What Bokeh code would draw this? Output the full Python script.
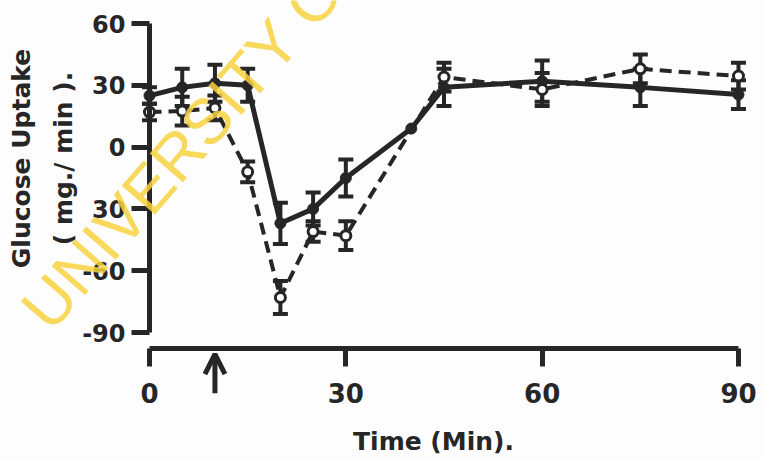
import math
from bokeh.plotting import figure
from bokeh.models import (ColumnDataSource, Whisker, TeeHead, Arrow, OpenHead,
                          Label, Range1d, FixedTicker)
from bokeh.embed import file_html
from bokeh.resources import INLINE

# ---------------- data ----------------
time_filled = [0, 5, 10, 15, 20, 25, 30, 40, 45, 60, 75, 90]
uptake_filled = [25, 29, 31, 30, -37, -30, -15, 9, 29, 32, 29, 25.5]
err_filled = [4, 9, 9, 8, 10, 8, 9, 0, 9, 10, 9, 7]

time_open = [0, 5, 10, 15, 20, 25, 30, 45, 60, 75, 90]
uptake_open = [17, 17.5, 19, -12, -73, -41, -43, 34, 28, 38, 34.5]
err_open = [4, 7, 6, 5, 8, 5, 7, 7, 8, 7, 6.5]

y_ticks = [-90, -60, -30, 0, 30, 60]
y_tick_labels = ["-90", "-60", "30", "0", "30", "60"]
x_ticks = [0, 30, 60, 90]
arrow_time = 10

x_title = "Time (Min)."
y_title_1 = "Glucose Uptake"
y_title_2 = "( mg./ min )."
watermark = "UNIVERSITY O"

INK = "#262626"
FONT = "DejaVu Sans"

# The frame covers the whole canvas; axes are pinned with fixed_location so
# that the detached time axis, the arrow and the titles are all inside it.
p = figure(width=762, height=459,
           x_range=Range1d(-22.77, 93.67), y_range=Range1d(-151.65, 71.17),
           output_backend="svg", toolbar_location=None,
           min_border_left=0, min_border_right=0, min_border_top=0, min_border_bottom=0)
p.grid.visible = False
p.outline_line_color = None
p.background_fill_color = "#fdfdfd"
p.border_fill_color = "#fdfdfd"

for ax in p.axis:
    ax.axis_line_width = 5
    ax.axis_line_color = INK
    ax.major_tick_line_width = 5
    ax.major_tick_line_color = INK
    ax.major_tick_in = 0
    ax.major_tick_out = 18
    ax.minor_tick_line_color = None
    ax.major_label_text_font = FONT
    ax.major_label_text_font_style = "bold"
    ax.major_label_text_color = INK

p.yaxis.fixed_location = 0
p.yaxis.bounds = (-90, 60)
p.yaxis.ticker = FixedTicker(ticks=y_ticks)
p.yaxis.major_label_overrides = {t: l for t, l in zip(y_ticks, y_tick_labels)}
p.yaxis.major_label_text_font_size = "24px"
p.yaxis.major_label_standoff = 6

p.xaxis.fixed_location = -97.8
p.xaxis.bounds = (0, 90)
p.xaxis.ticker = FixedTicker(ticks=x_ticks)
p.xaxis.major_label_text_font_size = "26px"
p.xaxis.major_label_standoff = 16

# lines
p.line(time_filled, uptake_filled, line_width=5, line_color=INK)
p.line(time_open, uptake_open, line_width=4, line_color=INK, line_dash="12 7")

# error bars
def whisker_source(ts, ys, es):
    t2, lo, hi = [], [], []
    for t, y, e in zip(ts, ys, es):
        if e > 0:
            t2.append(t); lo.append(y - e); hi.append(y + e)
    return ColumnDataSource(dict(t=t2, lower=lo, upper=hi))

for ts, ys, es in [(time_filled, uptake_filled, err_filled), (time_open, uptake_open, err_open)]:
    w = Whisker(source=whisker_source(ts, ys, es), base="t", lower="lower", upper="upper",
                line_width=4, line_color=INK,
                upper_head=TeeHead(size=15, line_width=4, line_color=INK),
                lower_head=TeeHead(size=15, line_width=4, line_color=INK))
    p.add_layout(w)

# markers
p.scatter(time_filled, uptake_filled, size=11, fill_color=INK, line_color=INK)
p.scatter(time_open, uptake_open, size=10, fill_color="white", line_color=INK, line_width=3)

# injection arrow below the time axis
p.add_layout(Arrow(end=OpenHead(size=20, line_width=5, line_color=INK),
                   x_start=arrow_time, y_start=-119.5, x_end=arrow_time, y_end=-100.5,
                   line_width=5, line_color=INK))

# axis titles (screen units, measured from the bottom-left of the canvas)
p.add_layout(Label(x=433, y=18, x_units="screen", y_units="screen", text=x_title,
                   text_font=FONT, text_font_style="bold", text_font_size="25px",
                   text_color=INK, text_align="center", text_baseline="alphabetic"))
p.add_layout(Label(x=21, y=301, x_units="screen", y_units="screen", text=y_title_1,
                   angle=math.pi / 2, text_font=FONT, text_font_style="bold",
                   text_font_size="25px", text_color=INK, text_align="center",
                   text_baseline="middle"))
p.add_layout(Label(x=63, y=301, x_units="screen", y_units="screen", text=y_title_2,
                   angle=math.pi / 2, text_font=FONT, text_font_style="bold",
                   text_font_size="25px", text_color=INK, text_align="center",
                   text_baseline="middle"))

# watermark
p.add_layout(Label(x=34, y=140, x_units="screen", y_units="screen", text=watermark,
                   angle=math.radians(49), text_font="Liberation Sans",
                   text_font_size="64px", text_color="#f8d240", text_alpha=0.85,
                   text_align="left", text_baseline="middle"))

open("out.html", "w").write(file_html(p, INLINE))
